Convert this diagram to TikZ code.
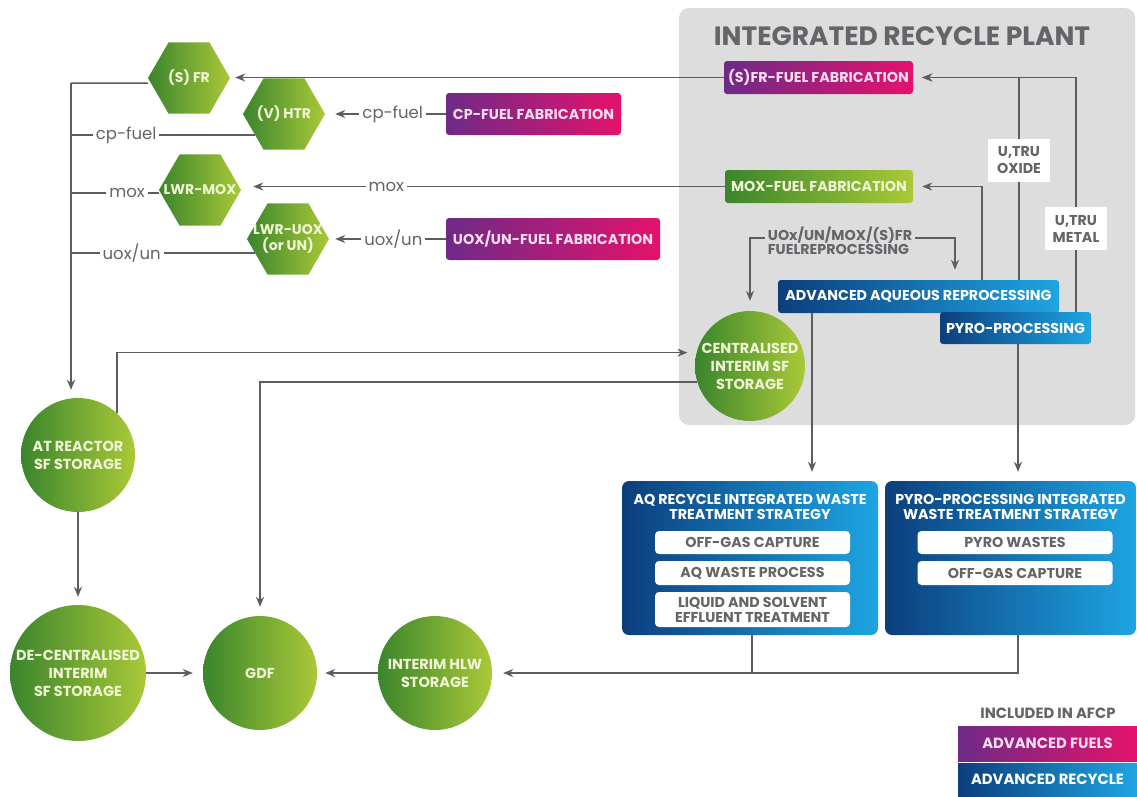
\documentclass[tikz,border=0pt]{standalone}
\usepackage{fontspec}
\setmainfont{Poppins}
\usepackage{xcolor}
\usetikzlibrary{shapes.geometric,arrows.meta,positioning}

\definecolor{leafdark}{RGB}{58,133,44}
\definecolor{leaflight}{RGB}{170,201,56}
\definecolor{plumdark}{RGB}{110,42,135}
\definecolor{plumlight}{RGB}{228,18,108}
\definecolor{seadark}{RGB}{12,62,125}
\definecolor{sealight}{RGB}{30,165,226}
\definecolor{linegray}{RGB}{92,92,97}
\definecolor{panelgray}{RGB}{221,221,222}
\definecolor{textgray}{RGB}{100,100,105}
\definecolor{paletext}{RGB}{240,246,212}
\definecolor{pinktext}{RGB}{250,222,240}

\begin{document}
\begin{tikzpicture}[x=1pt, y=-1pt,
    hexa/.style={regular polygon, regular polygon sides=6, minimum size=82pt, inner sep=0pt,
      left color=leafdark, right color=leaflight, text=paletext, align=center,
      font=\bfseries\fontsize{14}{16}\selectfont},
    disc/.style={circle, minimum size=#1, inner sep=0pt, left color=leafdark, right color=leaflight,
      text=paletext, align=center, font=\bfseries\fontsize{14.5}{18}\selectfont},
    fuelbox/.style={rounded corners=3pt, left color=plumdark, right color=plumlight, text=pinktext,
      inner sep=0pt, font=\bfseries\fontsize{14.3}{16}\selectfont},
    moxbox/.style={fuelbox, left color=leafdark, right color=leaflight, text=paletext},
    seabox/.style={fuelbox, left color=seadark, right color=sealight, text=white},
    wastebox/.style={rounded corners=7pt, left color=seadark, right color=sealight, inner sep=0pt},
    wastetitle/.style={text=white, align=center, inner sep=0pt, font=\bfseries\fontsize{14.3}{15.5}\selectfont},
    tray/.style={fill=white, rounded corners=4pt, text=textgray, align=center, inner sep=0pt,
      minimum width=195pt, font=\bfseries\fontsize{14.3}{15}\selectfont},
    tag/.style={fill=white, text=textgray, align=center, inner sep=0pt, minimum width=62pt,
      minimum height=43pt, font=\bfseries\fontsize{14.3}{17}\selectfont},
    lbl/.style={fill=white, text=textgray, inner sep=3pt, font=\fontsize{16.5}{17}\selectfont},
    link/.style={draw=linegray, line width=1.5pt},
    flow/.style={link, -{Stealth[length=10pt, width=8pt]}},
  ]
  \useasboundingbox (0,0) rectangle (1137,796);
  \fill[white] (0,0) rectangle (1137,796);

  % Plant panel
  \fill[panelgray, rounded corners=10pt] (679,8) rectangle (1135,425);
  \node[text=textgray, font=\bfseries\fontsize{26.5}{28}\selectfont] (plant) at (902,36) {INTEGRATED RECYCLE PLANT};

  % Reactors
  \node[hexa] (sfr) at (189,78) {\makebox[0pt]{(S) FR}};
  \node[hexa] (htr) at (284,114) {\makebox[0pt]{(V) HTR}};
  \node[hexa] (lwrmox) at (200,190) {\makebox[0pt]{LWR-MOX}};
  \node[hexa] (lwruox) at (288,239) {\makebox[0pt]{LWR-UOX}\\\makebox[0pt]{(or UN)}};

  % Fuel fabrication
  \node[fuelbox, minimum width=189pt, minimum height=33pt] (sfrfab) at (818.5,77.5) {(S)FR-FUEL FABRICATION};
  \node[fuelbox, minimum width=175pt, minimum height=42pt] (cpfab) at (533.5,114) {CP-FUEL FABRICATION};
  \node[fuelbox, minimum width=214pt, minimum height=42pt] (uoxfab) at (553,239) {UOX/UN-FUEL FABRICATION};
  \node[moxbox, minimum width=188pt, minimum height=33pt] (moxfab) at (819,186.5) {MOX-FUEL FABRICATION};

  % Reprocessing
  \node[seabox, minimum width=281pt, minimum height=33pt] (aar) at (918.5,296.5) {ADVANCED AQUEOUS REPROCESSING};
  \node[seabox, minimum width=151pt, minimum height=32pt] (pyro) at (1015.5,328) {PYRO-PROCESSING};

  % Storage
  \node[disc=110pt] (csf) at (750,366) {CENTRALISED\\INTERIM SF\\STORAGE};
  \node[disc=114pt] (atr) at (78,455) {AT REACTOR\\SF STORAGE};
  \node[disc=136pt] (dec) at (78,673) {DE-CENTRALISED\\INTERIM\\SF STORAGE};
  \node[disc=114pt] (gdf) at (260,673) {GDF};
  \node[disc=114pt] (hlw) at (435,673) {INTERIM HLW\\STORAGE};

  % Waste treatment
  \node[wastebox, minimum width=256pt, minimum height=154pt] (aqw) at (750,558) {};
  \node[wastetitle] (aqwtitle) at (750,507) {AQ RECYCLE INTEGRATED WASTE\\TREATMENT STRATEGY};
  \node[tray, minimum height=23pt] (aqgas) at (752.5,542.5) {OFF-GAS CAPTURE};
  \node[tray, minimum height=24pt] (aqproc) at (752.5,573) {AQ WASTE PROCESS};
  \node[tray, minimum height=35pt] (aqliq) at (752.5,609.5) {LIQUID AND SOLVENT\\EFFLUENT TREATMENT};
  \node[wastebox, minimum width=251pt, minimum height=154pt] (pyw) at (1010.5,558) {};
  \node[wastetitle] (pywtitle) at (1010.5,507) {PYRO-PROCESSING INTEGRATED\\WASTE TREATMENT STRATEGY};
  \node[tray, minimum height=23pt] (pywaste) at (1015,542.5) {PYRO WASTES};
  \node[tray, minimum height=24pt] (pygas) at (1015,573) {OFF-GAS CAPTURE};

  % Legend
  \node[text=textgray, font=\bfseries\fontsize{14.8}{16}\selectfont] (afcp) at (1048,713) {INCLUDED IN AFCP};
  \node[fuelbox, sharp corners, minimum width=179pt, minimum height=35pt, font=\bfseries\fontsize{14.8}{16}\selectfont] (legfuel) at (1047.5,743.5) {ADVANCED FUELS};
  \node[seabox, sharp corners, minimum width=179pt, minimum height=33pt, font=\bfseries\fontsize{14.8}{16}\selectfont] (legrec) at (1047.5,779.5) {ADVANCED RECYCLE};

  % Supply lines to the reactors
  \draw[flow, shorten >=5pt] (sfrfab.west) -- (sfrfab.west -| sfr.east);
  \draw[flow, shorten >=10pt] (cpfab.west) -- (cpfab.west -| htr.east) node[lbl, pos=0.44] (cplbl) {cp-fuel};
  \draw[flow, shorten >=12pt] (moxfab.west) -- (moxfab.west -| lwrmox.east) node[lbl, pos=0.7] (moxlbl) {mox};
  \draw[flow, shorten >=6pt] (uoxfab.west) -- (uoxfab.west -| lwruox.east) node[lbl, pos=0.45] (uoxlbl) {uox/un};

  % Spent fuel from the reactors
  \coordinate (trunk) at (71,83);
  \draw[link] ([yshift=-5pt]sfr.west) -- (trunk);
  \draw[flow, shorten >=8pt] (trunk) -- (trunk |- atr.north);
  \draw[link] (htr.216) -- (htr.216 -| trunk) node[lbl, pos=0.7] (cpout) {cp-fuel};
  \draw[link] ([yshift=-3pt]lwrmox.west) -- ([yshift=-3pt]lwrmox.west -| trunk) node[lbl, pos=0.36] (moxout) {mox};
  \draw[link] (lwruox.203) -- (lwruox.203 -| trunk) node[lbl, pos=0.67] (uoxout) {uox/un};

  % Storage routes
  \draw[flow, shorten >=9pt] (atr.47) |- (csf.166);
  \draw[flow, shorten >=9pt] (csf.197) -| (gdf.north);
  \draw[flow, shorten >=8pt] (atr.south) -- (dec.north);
  \draw[flow, shorten >=10pt] (dec.east) -- (gdf.west);
  \draw[flow, shorten >=8pt] (hlw.west) -- (gdf.east);

  % Inside the plant
  \draw[flow, shorten >=9pt] ([xshift=63.5pt]aar.north) |- (moxfab.east);
  \draw[flow, shorten >=9pt] ([xshift=100.5pt]aar.north) |- (sfrfab.east);
  \draw[flow, shorten >=9pt] ([xshift=60.5pt]pyro.north) |- (sfrfab.east);
  \node[text=textgray, align=left, inner sep=3pt, font=\bfseries\fontsize{14.3}{13.5}\selectfont] (reproc) at (840,241) {UOx/UN/MOX/(S)FR\\FUELREPROCESSING};
  \draw[flow, shorten >=10pt] ([yshift=3pt]reproc.west) -| (csf.north);
  \draw[flow, shorten >=10pt] ([yshift=3pt]reproc.east) -| ([xshift=36.5pt]aar.north);
  \node[tag] (oxide) at (1019,160.5) {U,TRU\\OXIDE};
  \node[tag] (metal) at (1076,228.5) {U,TRU\\METAL};

  % Waste routes
  \draw[flow, shorten >=9pt] ([xshift=-106.5pt]aar.south) -- ([xshift=-106.5pt]aar.south |- aqw.north);
  \draw[flow, shorten >=9pt] ([xshift=2.5pt]pyro.south) -- ([xshift=2.5pt]pyro.south |- pyw.north);
  \draw[link] ([xshift=2pt]aqw.south) -- ([xshift=2pt]aqw.south |- hlw.east);
  \draw[flow, shorten >=11pt] ([xshift=7.5pt]pyw.south) |- (hlw.east);
\end{tikzpicture}
\end{document}
